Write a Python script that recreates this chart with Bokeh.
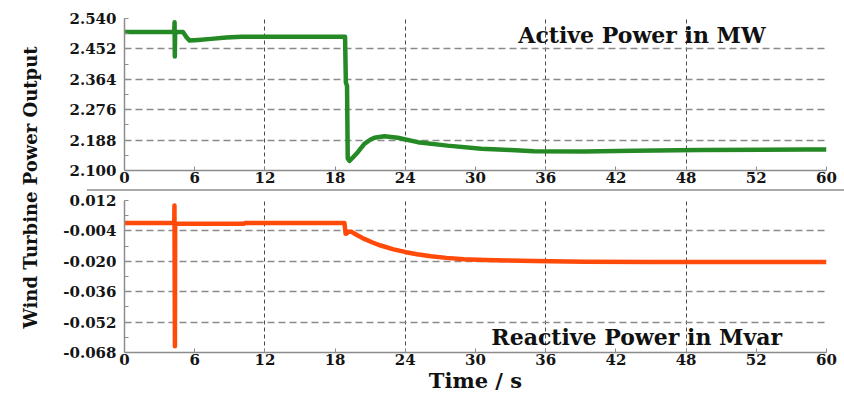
import math
from bokeh.plotting import figure
from bokeh.layouts import row, column
from bokeh.models import FixedTicker, Label, Div, NumeralTickFormatter
from bokeh.core.properties import value
from bokeh.embed import file_html
from bokeh.resources import INLINE

# ---------------- data ----------------
x_ticks = [0, 6, 12, 18, 24, 30, 36, 42, 48, 54, 60]
x_tick_labels = ["0", "6", "12", "18", "24", "30", "36", "42", "48", "52", "60"]
x_grid = [12, 24, 36, 48, 60]

p_ticks = [2.100, 2.188, 2.276, 2.364, 2.452, 2.540]
q_ticks = [-0.068, -0.052, -0.036, -0.020, -0.004, 0.012]

t_p = [0, 4.25, 4.28, 4.30, 4.33, 5.0, 5.3, 5.57, 6.3, 7.4, 8.7, 10.0, 18.85,
       18.92, 19.02, 19.08, 19.23, 19.5, 19.94, 20.5, 21.0, 21.36, 22.2,
       23.35, 25.06, 27.6, 30.5, 33.0, 35.0, 39.3, 43.5, 49.2, 58.3, 60]
p_mw = [2.501, 2.501, 2.529, 2.430, 2.501, 2.501, 2.486, 2.476, 2.478, 2.481,
        2.485, 2.487, 2.487, 2.355, 2.345, 2.135, 2.128, 2.137, 2.153, 2.177,
        2.189, 2.195, 2.199, 2.195, 2.182, 2.172, 2.163, 2.159, 2.156, 2.155,
        2.157, 2.159, 2.161, 2.161]

t_q = [0, 4.25, 4.27, 4.31, 4.33, 10.2, 10.3, 18.8, 18.9, 19.0, 19.1, 19.37,
       19.9, 20.5, 21.2, 21.9, 23.0, 24.06, 25.0, 26.2, 27.5, 29.0, 30.8, 32.7,
       35.0, 39.3, 45.0, 60]
q_mvar = [0.0001, 0.0001, 0.0094, -0.0647, -0.0002, -0.0002, 0.0001, 0.0001,
          -0.0055, -0.0053, -0.0044, -0.0044, -0.0063, -0.0082, -0.0101,
          -0.0117, -0.0137, -0.0152, -0.0163, -0.0173, -0.0182, -0.0189,
          -0.0193, -0.0196, -0.0198, -0.0202, -0.0204, -0.0204]

FONT = "DejaVu Serif"
GREEN = "#258a25"
ORANGE = "#ff4a0a"


def style(p, yticks):
    minor = [(a + b) / 2 for a, b in zip(yticks[:-1], yticks[1:])]
    p.xaxis.ticker = FixedTicker(ticks=x_ticks)
    p.xaxis.major_label_overrides = {t: l for t, l in zip(x_ticks, x_tick_labels)}
    p.yaxis.ticker = FixedTicker(ticks=yticks, minor_ticks=minor)
    p.yaxis.formatter = NumeralTickFormatter(format="0.000")
    p.xgrid.ticker = FixedTicker(ticks=x_grid)
    p.ygrid.ticker = FixedTicker(ticks=yticks)
    p.xgrid.grid_line_color = "#4a4a4a"
    p.xgrid.grid_line_dash = "4 3"
    p.xgrid.grid_line_width = 1
    p.ygrid.grid_line_color = "#8a8a8a"
    p.ygrid.grid_line_dash = "7 4"
    p.ygrid.grid_line_width = 1.3
    for ax in (p.xaxis[0], p.yaxis[0]):
        ax.axis_line_color = "#8c8c8c"
        ax.axis_line_width = 1.5
        ax.major_tick_in = 4
        ax.major_tick_out = 0
        ax.minor_tick_in = 4
        ax.minor_tick_out = 0
        ax.major_tick_line_color = "#8c8c8c"
        ax.minor_tick_line_color = "#8c8c8c"
        ax.major_label_text_font = FONT
        ax.major_label_text_font_style = "bold"
        ax.major_label_text_font_size = "15px"
        ax.major_label_text_color = "#151515"
    p.yaxis.major_label_standoff = 8
    p.xaxis.major_label_standoff = 1
    p.outline_line_color = None
    p.background_fill_color = "white"
    p.border_fill_color = "white"


p1 = figure(width=784, height=189, x_range=(0, 60), y_range=(2.100, 2.540),
            output_backend="svg", toolbar_location=None,
            min_border_left=63, min_border_right=18, min_border_top=18,
            min_border_bottom=19)
style(p1, p_ticks)
p1.line(t_p, p_mw, line_color=GREEN, line_width=4.5, line_join="round")
p1.add_layout(Label(x=54.8, y=2.491, text="Active Power in MW", text_align="right",
                    text_baseline="middle", text_font=FONT,
                    text_font_style="bold", text_font_size="22px",
                    text_color="#111111"))

sep = Div(width=757, height=2, margin=(0, 0, 0, 27),
          styles={"background-color": "#a9a9a9"})

p2 = figure(width=784, height=205, x_range=(0, 60), y_range=(-0.068, 0.012),
            output_backend="svg", toolbar_location=None,
            min_border_left=63, min_border_right=18, min_border_top=9,
            min_border_bottom=44)
style(p2, q_ticks)
p2.line(t_q, q_mvar, line_color=ORANGE, line_width=4.5, line_join="round")
p2.add_layout(Label(x=56.2, y=-0.0596, text="Reactive Power in Mvar", text_align="right",
                    text_baseline="middle", text_font=FONT,
                    text_font_style="bold", text_font_size="22px",
                    text_color="#111111"))
p2.xaxis.axis_label = "Time / s"
p2.xaxis.axis_label_text_font = FONT
p2.xaxis.axis_label_text_font_style = "bold"
p2.xaxis.axis_label_text_font_size = "21px"
p2.xaxis.axis_label_text_color = "#111111"
p2.xaxis.axis_label_standoff = 0

pl = figure(width=60, height=396, x_range=(0, 1), y_range=(0, 1),
            output_backend="svg", toolbar_location=None,
            min_border=0)
pl.axis.visible = False
pl.grid.visible = False
pl.outline_line_color = None
pl.text(x=[0.5], y=[0.528], text=["Wind Turbine Power Output"], angle=math.pi / 2,
        text_align="center", text_baseline="middle", text_font=value(FONT),
        text_font_style="bold", text_font_size="18px", text_color="#111111")

layout = row(pl, column(p1, sep, p2))
open("out.html", "w").write(file_html(layout, INLINE))
